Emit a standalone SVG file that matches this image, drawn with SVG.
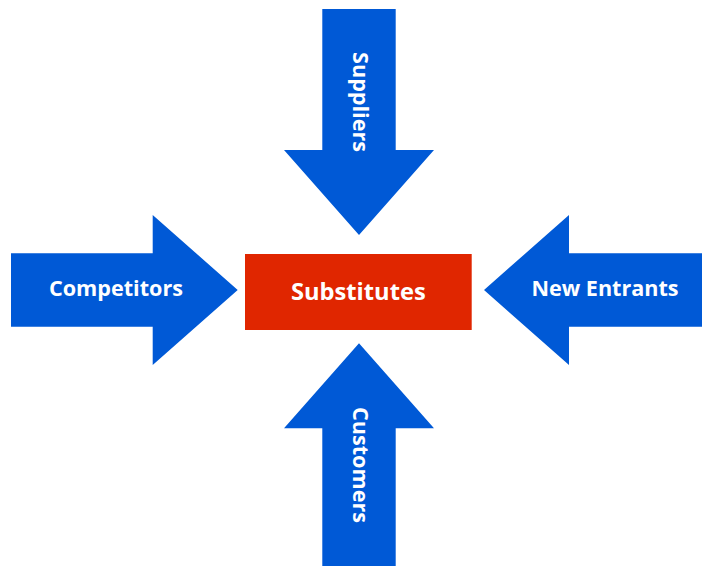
<svg xmlns="http://www.w3.org/2000/svg" width="702" height="566" viewBox="0 0 702 566">
  <style>
    .arrow { fill: #0059D6; }
    .center { fill: #E02600; }
    .lbl { font-family: "Open Sans", "Liberation Sans", sans-serif; font-weight: bold; fill: #ffffff; text-anchor: middle; dominant-baseline: central; }
    .side { font-size: 21.6px; }
    .main { font-size: 23.7px; }
  </style>
  <rect width="702" height="566" fill="#ffffff"/>
  <g id="connectors">
    <g id="suppliers">
      <polygon class="arrow" points="322.3,9 395.7,9 395.7,150 434,150 359,235 284,150 322.3,150"/>
      <text class="lbl side" transform="translate(361,102) rotate(90)">Suppliers</text>
    </g>
    <g id="competitors">
      <polygon class="arrow" points="11,253.3 152.7,253.3 152.7,215 237.7,290 152.7,365 152.7,326.7 11,326.7"/>
      <text class="lbl side" x="116" y="287">Competitors</text>
    </g>
    <g id="new-entrants">
      <polygon class="arrow" points="702,253.3 569,253.3 569,215 484,290 569,365 569,326.7 702,326.7"/>
      <text class="lbl side" x="605" y="287">New Entrants</text>
    </g>
    <g id="customers">
      <polygon class="arrow" points="322.3,566 395.7,566 395.7,428.3 434,428.3 359,343.3 284,428.3 322.3,428.3"/>
      <text class="lbl side" transform="translate(361,465) rotate(90)">Customers</text>
    </g>
  </g>
  <g id="substitutes">
    <rect class="center" x="245" y="254" width="226.7" height="76"/>
    <text class="lbl main" x="358.3" y="291">Substitutes</text>
  </g>
</svg>
